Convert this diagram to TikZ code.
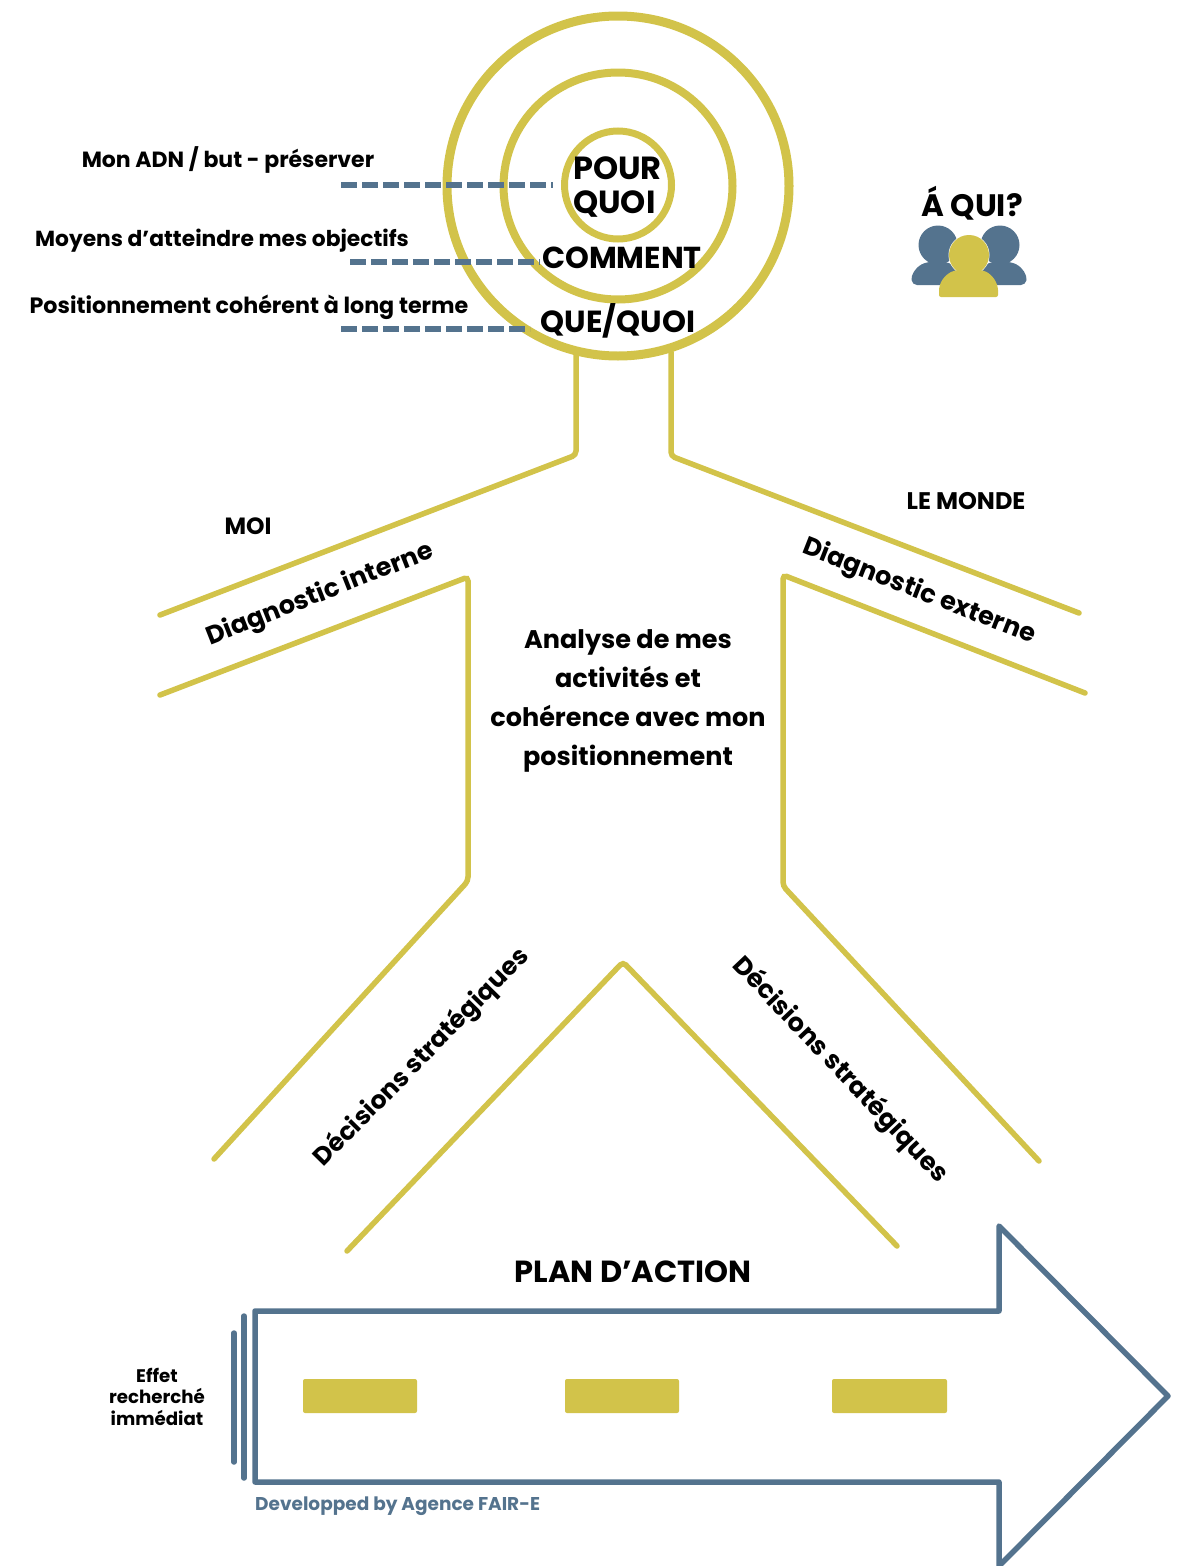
\documentclass[tikz,border=0pt]{standalone}
\usepackage{fontspec}
\setmainfont{Poppins}[BoldFont={Poppins Bold}]
\usetikzlibrary{shapes.geometric}
\definecolor{gold}{HTML}{D2C34A}
\definecolor{slate}{HTML}{54738E}
\tikzset{
  ring/.style={draw=gold,ellipse,inner sep=0pt},
  arm/.style={draw=gold,line width=5.5pt,rounded corners=4pt,line cap=round},
  leader/.style={draw=slate,line width=5.5pt,dash pattern=on 16pt off 5pt},
  lbl/.style={font=\bfseries\fontsize{#1}{#1}\selectfont,text=black,inner sep=0pt,align=center,anchor=base},
  lbl/.default=22pt,
  rlbl/.style={font=\bfseries\fontsize{#1}{#1}\selectfont,text=black,inner sep=0pt,align=center},
  slab/.style={fill=gold,rounded corners=2pt,draw=none},
  limb/.style={draw=slate,line width=5.5pt,line cap=round}
}
\begin{document}
\begin{tikzpicture}[x=1pt,y=-1pt]
\useasboundingbox (0,0) rectangle (1179,1566);
% target
\node[ring,line width=9pt,minimum width=342pt,minimum height=340pt] (outer) at (618,186) {};
\node[ring,line width=8pt,minimum width=229pt,minimum height=227pt] (middle) at (618,186) {};
\node[ring,line width=7pt,minimum width=107pt,minimum height=108pt] (inner) at (618,185) {};
% body
\draw[arm] (576,355) -- (576,455) -- (160,615);
\draw[arm] (671,352) -- (671,456) -- (1079,613);
\draw[arm] (160,695) -- (468,577) -- (468,881) -- (214,1159);
\draw[arm] (1085,693) -- (783,575) -- (783,886) -- (1039,1161);
\draw[arm] (347,1251) -- (623,962) -- (897,1246);
% leaders
\node[lbl=22pt] (t1) at (228,167) {Mon ADN / but - préserver};
\node[lbl=21.8pt] (t2) at (222,246) {Moyens d’atteindre mes objectifs};
\node[lbl=22.2pt] (t3) at (249,313) {Positionnement cohérent à long terme};
\coordinate (d1a) at (341,185); \coordinate (d1b) at (553,185);
\coordinate (d2a) at (350,262); \coordinate (d2b) at (540,262);
\coordinate (d3a) at (341,329); \coordinate (d3b) at (530,329);
\draw[leader] (d1a) -- (d1b);
\draw[leader] (d2a) -- (d2b);
\draw[leader] (d3a) -- (d3b);
% target labels
\node[lbl=32pt,anchor=base west] (pour) at (573,179) {POUR};
\node[lbl=32pt,anchor=base west] (quoi) at (573,213) {QUOI};
\node[lbl=30.3pt] (comment) at (622,268) {COMMENT};
\node[lbl=30.5pt] (que) at (618,332) {QUE/QUOI};
\node[lbl=31pt] (aqui) at (972,216) {Á QUI?};
% people icon
\fill[slate] (938,245) circle (19.5pt);
\fill[slate] (1000,245) circle (19.5pt);
\fill[slate,rounded corners=5pt] (926,262) .. controls (915,268) and (911,275) .. (912,285) -- (965,285) -- (950,262) -- cycle;
\fill[slate,rounded corners=5pt] (1012,262) .. controls (1023,268) and (1027,275) .. (1026,285) -- (973,285) -- (988,262) -- cycle;
\draw[white,line width=1pt,fill=gold] (969,255) circle (20pt);
\fill[gold,rounded corners=4pt] (955,270) .. controls (945,275) and (939,282) .. (939,295) -- (998,295) .. controls (998,282) and (992,275) .. (983,270) -- cycle;
\fill[gold] (969,255) circle (20pt);
\fill[gold,rounded corners=2pt] (939,288) rectangle (998,297);
% section labels
\node[lbl=23.5pt] (moi) at (248,534) {MOI};
\node[lbl=24pt] (monde) at (966,509) {LE MONDE};
\node[rlbl=25.5pt,rotate=21.5] (dint) at (320,595) {Diagnostic interne};
\node[rlbl=25.5pt,rotate=-21.5] (dext) at (919,592) {Diagnostic externe};
\node[lbl=25.5pt] (an1) at (628,648) {Analyse de mes};
\node[lbl=25.5pt] (an2) at (628,687) {activités et};
\node[lbl=25.5pt] (an3) at (628,726) {cohérence avec mon};
\node[lbl=25.5pt] (an4) at (628,765) {positionnement};
\node[rlbl=25pt,rotate=45.5] (dsl) at (422,1058) {Décisions stratégiques};
\node[rlbl=25.5pt,rotate=-46.5] (dsr) at (840,1070) {Décisions stratégiques};
% plan
\node[lbl=30.5pt] (plan) at (633,1282) {PLAN D’ACTION};
\draw[draw=slate,line width=5.5pt,line join=round] (255,1311) -- (999,1311) -- (999,1226) -- (1168,1396) -- (999,1566) -- (999,1482) -- (255,1482) -- cycle;
\draw[limb] (234,1333) -- (234,1462);
\draw[limb] (244,1316) -- (244,1478);
\fill[slab] (303,1379) rectangle (417,1413);
\fill[slab] (565,1379) rectangle (679,1413);
\fill[slab] (832,1379) rectangle (947,1413);
\node[lbl=18.2pt] (e1) at (157,1382) {Effet};
\node[lbl=18.2pt] (e2) at (157,1403) {recherché};
\node[lbl=18.2pt] (e3) at (157,1425) {immédiat};
\node[lbl=18.5pt,anchor=base west,text=slate] (dev) at (255,1510) {Developped by Agence FAIR-E};
\end{tikzpicture}
\end{document}
